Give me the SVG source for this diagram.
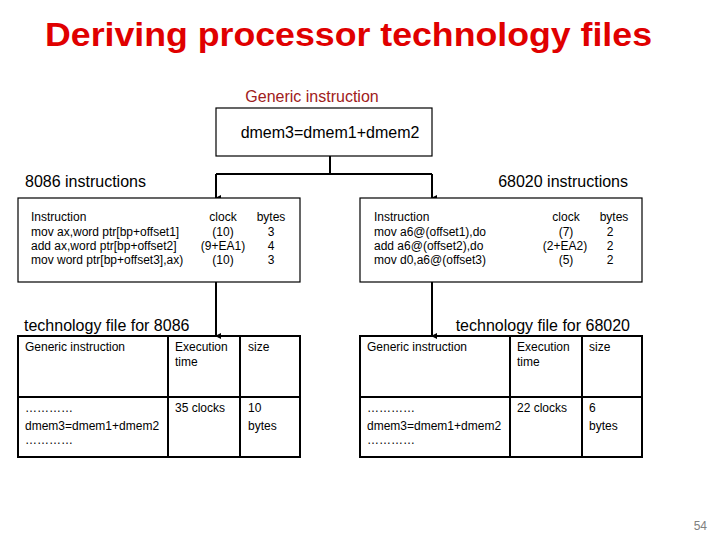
<svg xmlns="http://www.w3.org/2000/svg" width="720" height="540" viewBox="0 0 720 540">
<style>
text{font-family:"Liberation Sans",Arial,sans-serif;fill:#000}
.t15{font-size:16px}
.t12{font-size:12px}
.box{fill:#fff;stroke:#000;stroke-width:1.2}
.tbl{fill:none;stroke:#000;stroke-width:2}
.con{fill:none;stroke:#000;stroke-width:2}
.m{text-anchor:middle}
.e{text-anchor:end}
</style>
<defs>
<marker id="ah" markerWidth="6" markerHeight="6" refX="3" refY="5" orient="auto-start-reverse" markerUnits="userSpaceOnUse" viewBox="0 0 6 6">
<path d="M0,0 L6,0 L3,6 z" fill="#000"/>
</marker>
</defs>
<rect width="720" height="540" fill="#fff"/>
<text x="45" y="46" textLength="607" lengthAdjust="spacingAndGlyphs" style="font-size:34px;font-weight:bold;fill:#e00000">Deriving processor technology files</text>

<g id="generic">
<text x="312" y="102" class="t15 m" style="fill:#a02020">Generic instruction</text>
<rect x="216" y="108" width="216" height="48" class="box"/>
<text x="330" y="138" class="t15 m">dmem3=dmem1+dmem2</text>
</g>

<g id="connectors">
<path d="M330,156 V174 M216,174 H432" class="con"/>
<path d="M216,174 V198" class="con" marker-end="url(#ah)"/>
<path d="M432,174 V198" class="con" marker-end="url(#ah)"/>
<path d="M216,282 V336" class="con" marker-end="url(#ah)"/>
<path d="M432,282 V336" class="con" marker-end="url(#ah)"/>
</g>

<g id="instr8086">
<text x="25" y="187" class="t15">8086 instructions</text>
<rect x="18" y="198" width="282" height="84" class="box"/>
<text x="31" y="221" class="t12">Instruction</text>
<text x="31" y="235.5" class="t12">mov ax,word ptr[bp+offset1]</text>
<text x="31" y="249.5" class="t12">add ax,word ptr[bp+offset2]</text>
<text x="31" y="264" class="t12">mov word ptr[bp+offset3],ax)</text>
<text x="223" y="221" class="t12 m">clock</text>
<text x="223" y="235.5" class="t12 m">(10)</text>
<text x="223" y="249.5" class="t12 m">(9+EA1)</text>
<text x="223" y="264" class="t12 m">(10)</text>
<text x="271" y="221" class="t12 m">bytes</text>
<text x="271" y="235.5" class="t12 m">3</text>
<text x="271" y="249.5" class="t12 m">4</text>
<text x="271" y="264" class="t12 m">3</text>
</g>

<g id="instr68020">
<text x="628" y="187" class="t15 e">68020 instructions</text>
<rect x="360" y="198" width="282" height="84" class="box"/>
<text x="374" y="221" class="t12">Instruction</text>
<text x="374" y="235.5" class="t12">mov a6@(offset1),do</text>
<text x="374" y="249.5" class="t12">add a6@(offset2),do</text>
<text x="374" y="264" class="t12">mov d0,a6@(offset3)</text>
<text x="566" y="221" class="t12 m">clock</text>
<text x="566" y="235.5" class="t12 m">(7)</text>
<text x="565" y="249.5" class="t12 m">(2+EA2)</text>
<text x="566" y="264" class="t12 m">(5)</text>
<text x="614" y="221" class="t12 m">bytes</text>
<text x="610" y="235.5" class="t12 m">2</text>
<text x="610" y="249.5" class="t12 m">2</text>
<text x="610" y="264" class="t12 m">2</text>
</g>

<g id="tech8086">
<text x="24" y="331" class="t15">technology file for 8086</text>
<rect x="18" y="336" width="282" height="121" class="tbl"/>
<path d="M168,336 V457 M240,336 V457 M18,397 H300" class="tbl"/>
<text x="25" y="351" class="t12">Generic instruction</text>
<text x="175" y="351" class="t12">Execution</text>
<text x="175" y="366" class="t12">time</text>
<text x="248" y="351" class="t12">size</text>
<text x="25" y="412" class="t12">…………</text>
<text x="25" y="430" class="t12">dmem3=dmem1+dmem2</text>
<text x="25" y="444" class="t12">…………</text>
<text x="175" y="412" class="t12">35 clocks</text>
<text x="248" y="412" class="t12">10</text>
<text x="248" y="430" class="t12">bytes</text>
</g>

<g id="tech68020">
<text x="630" y="331" class="t15 e">technology file for 68020</text>
<rect x="360" y="336" width="282" height="121" class="tbl"/>
<path d="M510,336 V457 M582,336 V457 M360,397 H642" class="tbl"/>
<text x="367" y="351" class="t12">Generic instruction</text>
<text x="517" y="351" class="t12">Execution</text>
<text x="517" y="366" class="t12">time</text>
<text x="589" y="351" class="t12">size</text>
<text x="367" y="412" class="t12">…………</text>
<text x="367" y="430" class="t12">dmem3=dmem1+dmem2</text>
<text x="367" y="444" class="t12">…………</text>
<text x="517" y="412" class="t12">22 clocks</text>
<text x="589" y="412" class="t12">6</text>
<text x="589" y="430" class="t12">bytes</text>
</g>

<text x="707" y="530" class="t12 e" style="fill:#808080">54</text>
</svg>
